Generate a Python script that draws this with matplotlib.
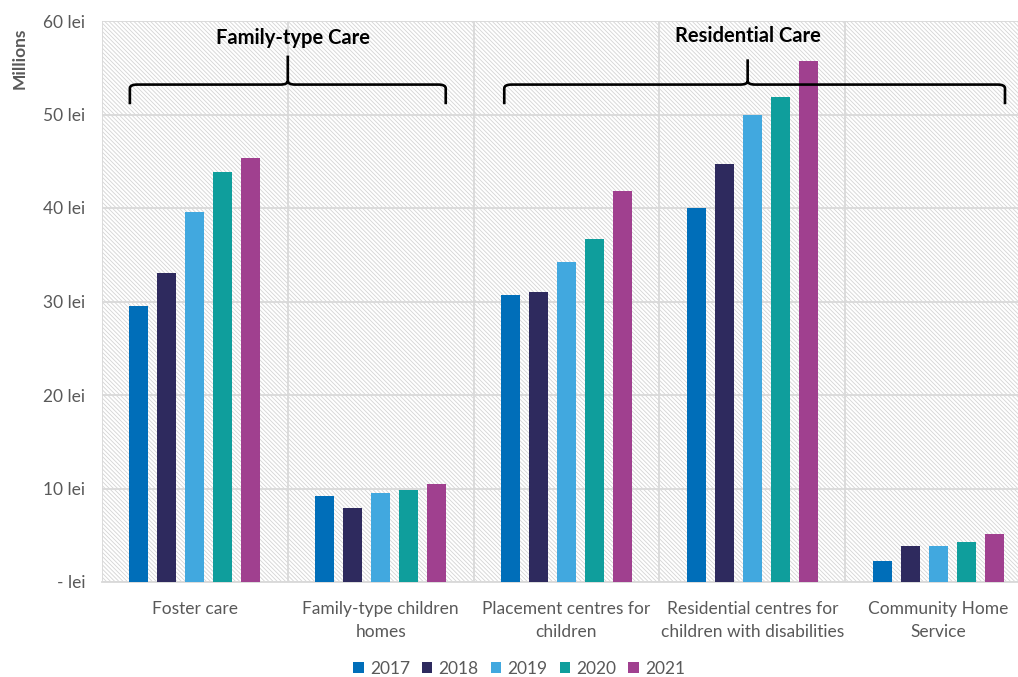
import matplotlib
matplotlib.use("Agg")
import matplotlib.pyplot as plt
import numpy as np
from matplotlib.path import Path
from matplotlib.patches import PathPatch, Rectangle
from matplotlib.ticker import FixedLocator

plt.rcParams['font.family'] = ['Lato', 'DejaVu Sans']
plt.rcParams['hatch.linewidth'] = 0.6

categories = ["Foster care", "Family-type children\nhomes", "Placement centres for\nchildren",
              "Residential centres for\nchildren with disabilities", "Community Home\nService"]
years = ["2017", "2018", "2019", "2020", "2021"]
values = {
    "2017": [29.5, 9.2, 30.7, 40.0, 2.2],
    "2018": [33.0, 7.9, 31.0, 44.7, 3.8],
    "2019": [39.6, 9.5, 34.2, 49.9, 3.8],
    "2020": [43.8, 9.8, 36.7, 51.9, 4.3],
    "2021": [45.4, 10.45, 41.8, 55.7, 5.1],
}
colors = ["#006EB9", "#2E2A5E", "#41A8DF", "#0F9E9C", "#A0408F"]
ytick_vals = [0, 10, 20, 30, 40, 50, 60]
ytick_labels = ["- lei", "10 lei", "20 lei", "30 lei", "40 lei", "50 lei", "60 lei"]

W, H = 1018, 677
fig = plt.figure(figsize=(W / 100, H / 100), dpi=100)
ax = fig.add_axes([102 / W, (H - 582) / H, 929 / W, 561 / H])

# hatched plot background
bg = Rectangle((0, 0), 1, 1, transform=ax.transAxes, facecolor="white",
               edgecolor="#D4D4D4", hatch="\\" * 8, linewidth=0, zorder=0)
ax.add_patch(bg)
ax.patch.set_visible(False)

x = np.arange(len(categories))
step, width = 0.1505, 0.102
for i, (yr, c) in enumerate(zip(years, colors)):
    ax.bar(x + (i - 2) * step, values[yr], width=width, color=c, zorder=3, label=yr)

ax.set_xlim(-0.5, 4.5)
ax.set_ylim(0, 60)
ax.set_yticks(ytick_vals)
ax.set_yticklabels(ytick_labels, fontsize=12.5, color="#595959")
ax.set_xticks(x)
ax.set_xticklabels(categories, fontsize=12.5, color="#595959", linespacing=1.5)
ax.xaxis.set_minor_locator(FixedLocator(np.arange(-0.5, 5.0, 1.0)))
ax.tick_params(axis="both", which="both", length=0)
ax.tick_params(axis="y", pad=12)
ax.tick_params(axis="x", pad=14)
ax.grid(axis="y", which="major", color="#D9D9D9", linewidth=1.3, zorder=1)
ax.grid(axis="x", which="minor", color="#D9D9D9", linewidth=1.3, zorder=1)
ax.grid(axis="x", which="major", visible=False)
for s in ["top", "right", "left"]:
    ax.spines[s].set_visible(False)
ax.spines["bottom"].set_color("#D9D9D9")
ax.spines["bottom"].set_linewidth(1.3)
ax.set_axisbelow(True)


def brace(x0, x1, xm, y_end, y_bar, y_tip):
    r = 0.04
    ry = 0.4
    verts = [(x0, y_end), (x0, y_bar - ry), (x0, y_bar), (x0 + r, y_bar),
             (xm - r, y_bar), (xm, y_bar), (xm, y_bar + ry), (xm, y_tip),
             (xm, y_bar + ry), (xm, y_bar), (xm + r, y_bar),
             (x1 - r, y_bar), (x1, y_bar), (x1, y_bar - ry), (x1, y_end)]
    codes = [Path.MOVETO, Path.LINETO, Path.CURVE3, Path.CURVE3,
             Path.LINETO, Path.CURVE3, Path.CURVE3, Path.LINETO,
             Path.MOVETO, Path.CURVE3, Path.CURVE3,
             Path.LINETO, Path.CURVE3, Path.CURVE3, Path.LINETO]
    ax.add_patch(PathPatch(Path(verts, codes), fill=False, edgecolor="black",
                           linewidth=1.9, zorder=5, clip_on=False,
                           capstyle="butt", joinstyle="round"))


brace(-0.35, 1.35, 0.5, 51.1, 53.2, 56.3)
brace(1.665, 4.36, 2.975, 51.1, 53.2, 55.9)
ax.text(0.53, 58.2, "Family-type Care", ha="center", va="center",
        fontsize=14.5, fontweight="bold", color="black", zorder=6)
ax.text(2.975, 58.4, "Residential Care", ha="center", va="center",
        fontsize=14.5, fontweight="bold", color="black", zorder=6)

fig.text(20 / W, 1 - 58 / H, "Millions", rotation=90, ha="center", va="center",
         fontsize=12.5, fontweight="bold", color="#595959")

leg = fig.legend(loc="center", bbox_to_anchor=(519 / W, 1 - 669 / H), ncol=5,
                 frameon=False, fontsize=12.5, handlelength=0.6, handleheight=0.6,
                 handletextpad=0.35, columnspacing=0.7)
for t in leg.get_texts():
    t.set_color("#595959")

fig.savefig("out.png", dpi=100)
